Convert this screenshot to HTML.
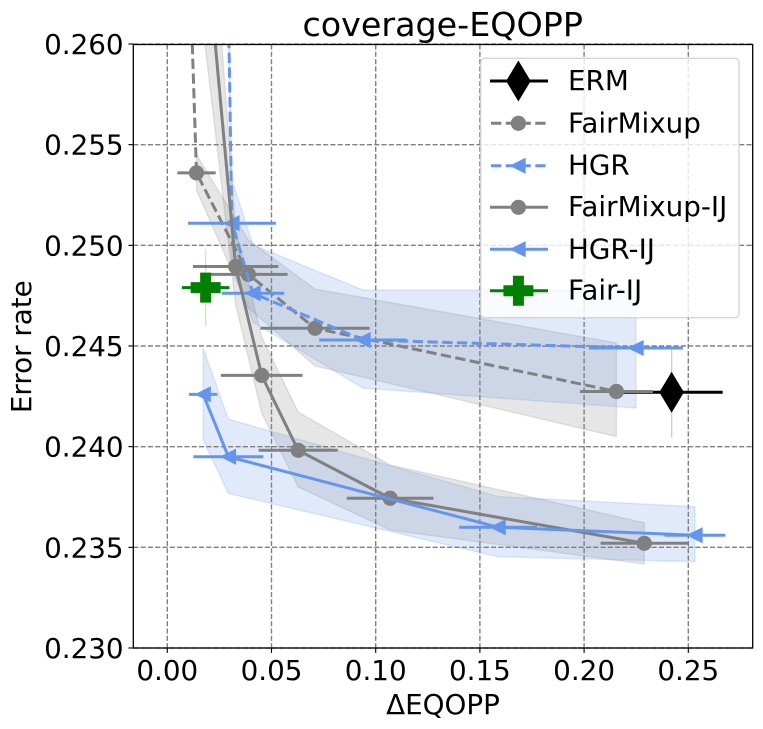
<!DOCTYPE html>
<html lang="en">
<head>
<meta charset="utf-8">
<title>coverage-EQOPP</title>
<style>
html,body{margin:0;padding:0;background:#fff;}
svg{display:block;font-family:"DejaVu Sans",sans-serif;}
</style>
</head>
<body>
<svg id="chart" xmlns="http://www.w3.org/2000/svg" width="763" height="729" viewBox="0 0 763 729">
  <defs>
    <clipPath id="plot-clip"><rect x="133.3" y="44.5" width="619.4" height="603.5"/></clipPath>
  </defs>
  <rect x="0" y="0" width="763" height="729" fill="#fff"/>
  <g id="bands" clip-path="url(#plot-clip)"></g>
  <g id="grid"></g>
  <g id="series" clip-path="url(#plot-clip)"></g>
  <g id="axes"></g>
  <rect x="133.3" y="44.5" width="619.4" height="603.5" fill="none" stroke="#000" stroke-width="1.3"/>
  <text x="442.7" y="36" font-size="33.33" text-anchor="middle" fill="#000">coverage-EQOPP</text>
  <text x="443" y="714" font-size="27.78" text-anchor="middle" fill="#000">ΔEQOPP</text>
  <text transform="translate(31,346.7) rotate(-90)" font-size="27.78" text-anchor="middle" fill="#000">Error rate</text>

  <g>
    <rect x="480.7" y="58.3" width="258.3" height="259.4" rx="4" ry="4" fill="#fff" fill-opacity="0.8" stroke="#ccc" stroke-opacity="0.8" stroke-width="1.39"/>
    <g>
      <line x1="490" x2="548" y1="81" y2="81" stroke="#000" stroke-width="3"/>
      <polygon points="518.4,60.5 530.7,81 518.4,101.5 506.1,81" fill="#000"/>
      <text x="568" y="90" font-size="27.78">ERM</text>
    </g>
    <g>
      <line x1="491" x2="546" y1="123.3" y2="123.3" stroke="#808080" stroke-width="3" stroke-dasharray="10.3 4.45"/>
      <circle cx="518.4" cy="123.3" r="7.6" fill="#808080"/>
      <text x="568" y="132.3" font-size="27.78">FairMixup</text>
    </g>
    <g>
      <line x1="491" x2="546" y1="165.7" y2="165.7" stroke="#6495ED" stroke-width="3" stroke-dasharray="10.3 4.45"/>
      <polygon points="511,165.7 525,158.7 525,172.7" fill="#6495ED" stroke="#6495ED" stroke-width="1.39" stroke-miterlimit="10"/>
      <text x="568" y="174.3" font-size="27.78">HGR</text>
    </g>
    <g>
      <line x1="490" x2="548" y1="207.3" y2="207.3" stroke="#808080" stroke-width="3"/>
      <circle cx="518.4" cy="207.3" r="7.6" fill="#808080"/>
      <text x="568" y="216" font-size="27.78">FairMixup-IJ</text>
    </g>
    <g>
      <line x1="490" x2="548" y1="249.3" y2="249.3" stroke="#6495ED" stroke-width="3"/>
      <polygon points="511,249.3 525,242.3 525,256.3" fill="#6495ED" stroke="#6495ED" stroke-width="1.39" stroke-miterlimit="10"/>
      <text x="568" y="258.3" font-size="27.78">HGR-IJ</text>
    </g>
    <g>
      <line x1="490" x2="548" y1="290.7" y2="290.7" stroke="#008000" stroke-width="3"/>
      <polygon points="512.9,275.7 523.9,275.7 523.9,285.2 533.4,285.2 533.4,296.2 523.9,296.2 523.9,305.7 512.9,305.7 512.9,296.2 503.4,296.2 503.4,285.2 512.9,285.2" fill="#008000"/>
      <text x="568" y="299.5" font-size="27.78">Fair-IJ</text>
    </g>
  </g>
</svg>

<script>
// ---- chart data ----
const xTickLabels = ["0.00", "0.05", "0.10", "0.15", "0.20", "0.25"];
const yTickLabels = ["0.230", "0.235", "0.240", "0.245", "0.250", "0.255", "0.260"];

const ermX = [0.2420];
const ermY = [0.2427];
const ermXErr = [0.0245];
const ermYErr = [0.00224];

const fairMixupX = [0.0113, 0.0140, 0.0389, 0.0709, 0.2155];
const fairMixupY = [0.2622, 0.2536, 0.24856, 0.24588, 0.24274];
const fairMixupXErr = [0.009, 0.0092, 0.0188, 0.0262, 0.0175];
const fairMixupUpper = [null, 0.2545, 0.25027, 0.24783, 0.24515];
const fairMixupLower = [null, 0.25275, 0.24689, 0.24401, 0.24050];

const hgrX = [0.0292, 0.0310, 0.0411, 0.0939, 0.2249];
const hgrY = [0.2625, 0.2511, 0.24762, 0.2453, 0.2449];
const hgrXErr = [0.02, 0.0211, 0.015, 0.021, 0.0225];
const hgrUpper = [0.2635, 0.25325, 0.25002, 0.24778, 0.24778];
const hgrLower = [0.2615, 0.24902, 0.24619, 0.24291, 0.24192];

const fairMixupIjX = [0.0162, 0.0328, 0.0453, 0.0628, 0.1069, 0.2289];
const fairMixupIjY = [0.2677, 0.24895, 0.24354, 0.23982, 0.23744, 0.2352];
const fairMixupIjXErr = [0.02, 0.0205, 0.0196, 0.019, 0.0208, 0.021];
const fairMixupIjUpper = [0.27376, 0.25081, 0.24545, 0.24172, 0.23909, 0.23622];
const fairMixupIjLower = [0.26164, 0.24704, 0.24167, 0.238, 0.23586, 0.23417];

const hgrIjX = [0.0172, 0.0293, 0.1587, 0.2532];
const hgrIjY = [0.2426, 0.2395, 0.2360, 0.2356];
const hgrIjXErr = [0.0068, 0.0168, 0.0187, 0.0146];
const hgrIjUpper = [0.2449, 0.24137, 0.23752, 0.23702];
const hgrIjLower = [0.24033, 0.23768, 0.23453, 0.23429];

const fairIjX = [0.0184];
const fairIjY = [0.2479];
const fairIjXErr = [0.0114];
const fairIjYErr = [0.0019];

// ---- axis functions ----
const NS = "http://www.w3.org/2000/svg";
function xScale(v) { return 167.3 + v * 2084; }
function yScale(v) { return 648 - (v - 0.23) * 20133; }

const bandsLayer = document.getElementById("bands");
const gridLayer = document.getElementById("grid");
const seriesLayer = document.getElementById("series");
const axesLayer = document.getElementById("axes");

function make(tag, parent, props) {
  const node = document.createElementNS(NS, tag);
  for (const k in props) node.setAttribute(k, props[k]);
  parent.appendChild(node);
  return node;
}

function drawAxes() {
  xTickLabels.forEach(function (label) {
    const px = xScale(parseFloat(label));
    const g = make("line", gridLayer, { x1: px, x2: px, y1: 44.5, y2: 648, stroke: "#808080", "stroke-width": 1.39, "stroke-dasharray": "5.1 2.2" });
    
    
    const t = make("line", axesLayer, { x1: px, x2: px, y1: 648, y2: 652.9, stroke: "#000", "stroke-width": 1.11 });
    
    
    const l = make("text", axesLayer, { x: px, y: 680, "font-size": 27.78, "text-anchor": "middle", fill: "#000" });
    
    
    l.textContent = label;
  });
  yTickLabels.forEach(function (label) {
    const py = yScale(parseFloat(label));
    const g = make("line", gridLayer, { x1: 133.3, x2: 752.7, y1: py, y2: py, stroke: "#808080", "stroke-width": 1.39, "stroke-dasharray": "5.1 2.2" });
    
    
    const t = make("line", axesLayer, { x1: 128.4, x2: 133.3, y1: py, y2: py, stroke: "#000", "stroke-width": 1.11 });
    
    
    const l = make("text", axesLayer, { x: 123.6, y: py + 10, "font-size": 27.78, "text-anchor": "end", fill: "#000" });
    
    
    l.textContent = label;
  });
}

function drawBand(name, xs, upper, lower, color) {
  const top = [];
  const bottom = [];
  xs.forEach(function (v, i) {
    if (upper[i] === null) return;
    top.push(xScale(v) + "," + yScale(upper[i]));
    bottom.unshift(xScale(v) + "," + yScale(lower[i]));
  });
  const band = make("polygon", bandsLayer, { points: top.concat(bottom).join(" "), fill: color, "fill-opacity": 0.2, stroke: color, "stroke-opacity": 0.2, "stroke-width": 1.39 });
  
  
}

function drawMarker(name, shape, color, cx, cy) {
  let m;
  if (shape === "circle") {
    m = make("circle", seriesLayer, { cx: cx, cy: cy, r: 7.6, fill: color });
  } else if (shape === "triangle") {
    m = make("polygon", seriesLayer, { points: (cx - 7) + "," + cy + " " + (cx + 7) + "," + (cy - 7) + " " + (cx + 7) + "," + (cy + 7), fill: color, stroke: color, "stroke-width": 1.39, "stroke-miterlimit": 10 });
  } else if (shape === "diamond") {
    m = make("polygon", seriesLayer, { points: cx + "," + (cy - 20.5) + " " + (cx + 12.3) + "," + cy + " " + cx + "," + (cy + 20.5) + " " + (cx - 12.3) + "," + cy, fill: color });
  } else {
    const a = 15, b = 5.5;
    const pts = [[-b, -a], [b, -a], [b, -b], [a, -b], [a, b], [b, b], [b, a], [-b, a], [-b, b], [-a, b], [-a, -b], [-b, -b]];
    m = make("polygon", seriesLayer, { points: pts.map(function (p) { return (cx + p[0]) + "," + (cy + p[1]); }).join(" "), fill: color });
  }
  
  
}

function drawSeries(name, xs, ys, xerr, yerr, color, dashed, shape) {
  if (xs.length > 1) {
    const pts = xs.map(function (v, i) { return xScale(v) + "," + yScale(ys[i]); }).join(" ");
    const line = make("polyline", seriesLayer, { points: pts, fill: "none", stroke: color, "stroke-width": 3, "stroke-linejoin": "round" });
    if (dashed) line.setAttribute("stroke-dasharray", "10.3 4.45");
    
    
  }
  xs.forEach(function (v, i) {
    const cx = xScale(v);
    const cy = yScale(ys[i]);
    drawMarker(name, shape, color, cx, cy);
    const eb = make("line", seriesLayer, { x1: xScale(v - xerr[i]), x2: xScale(v + xerr[i]), y1: cy, y2: cy, stroke: color, "stroke-width": 3 });
    
    
    if (yerr) {
      const ev = make("line", seriesLayer, { x1: cx, x2: cx, y1: yScale(ys[i] + yerr[i]), y2: yScale(ys[i] - yerr[i]), stroke: color, "stroke-opacity": 0.2, "stroke-width": 1.4 });
      
      
    }
  });
}

drawBand("fairmixup", fairMixupX, fairMixupUpper, fairMixupLower, "#808080");
drawBand("hgr", hgrX, hgrUpper, hgrLower, "#6495ED");
drawBand("fairmixup-ij", fairMixupIjX, fairMixupIjUpper, fairMixupIjLower, "#808080");
drawBand("hgr-ij", hgrIjX, hgrIjUpper, hgrIjLower, "#6495ED");

drawAxes();

drawSeries("erm", ermX, ermY, ermXErr, ermYErr, "#000000", false, "diamond");
drawSeries("fairmixup", fairMixupX, fairMixupY, fairMixupXErr, null, "#808080", true, "circle");
drawSeries("hgr", hgrX, hgrY, hgrXErr, null, "#6495ED", true, "triangle");
drawSeries("fairmixup-ij", fairMixupIjX, fairMixupIjY, fairMixupIjXErr, null, "#808080", false, "circle");
drawSeries("hgr-ij", hgrIjX, hgrIjY, hgrIjXErr, null, "#6495ED", false, "triangle");
drawSeries("fair-ij", fairIjX, fairIjY, fairIjXErr, fairIjYErr, "#008000", false, "plus");
</script>
</body>
</html>
